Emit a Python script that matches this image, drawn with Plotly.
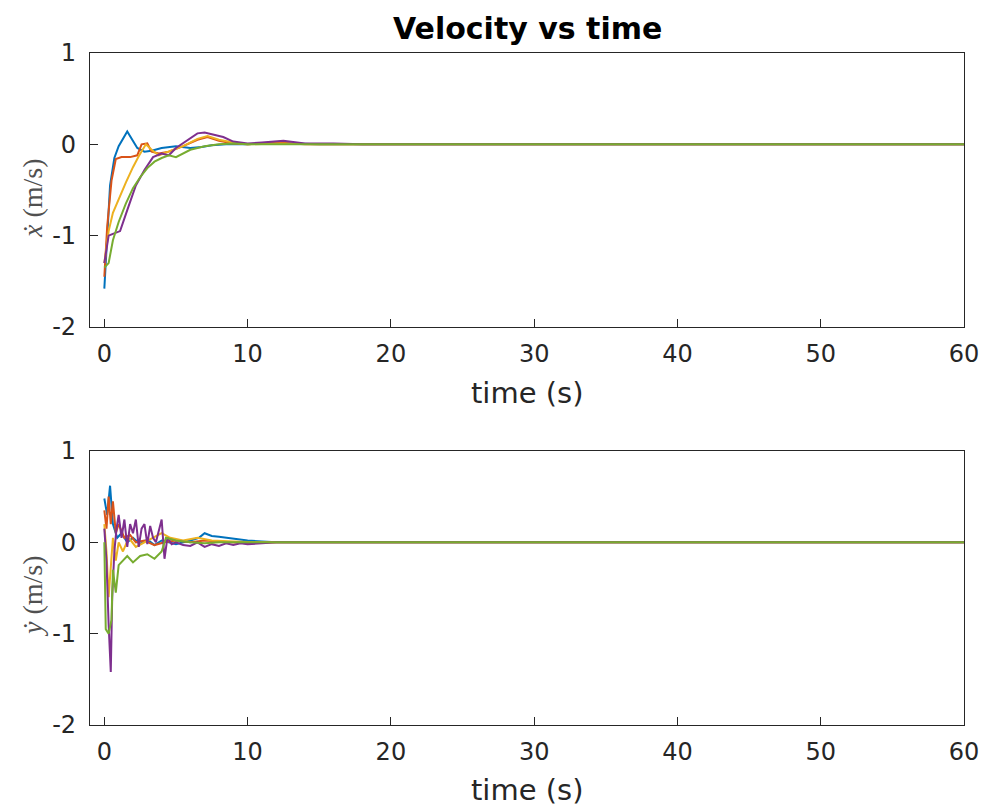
import plotly.graph_objects as go
from plotly.subplots import make_subplots

colors = ["#0072BD", "#D95319", "#EDB120", "#7E2F8E", "#77AC30"]
x_ticks = [0, 10, 20, 30, 40, 50, 60]
x_tick_text = ["0", "10", "20", "30", "40", "50", "60"]
y_ticks = [-2, -1, 0, 1]
y_tick_text = ["-2", "-1", "0", "1"]

# ---- top panel: x-dot ----
tx_blue = [0, 0.2, 0.4, 0.7, 1.0, 1.6, 2.3, 2.8, 3.3, 4.0, 5.0, 6.0, 6.8, 7.5, 8.5, 10, 12, 13, 15, 17, 20, 60]
vx_blue = [-1.58, -1.0, -0.45, -0.15, -0.02, 0.14, -0.04, -0.08, -0.07, -0.04, -0.02, -0.04, -0.03, -0.01, 0.0, 0.0, 0.02, 0.01, 0.0, 0.0, 0.0, 0.0]
tx_orange = [0, 0.2, 0.5, 0.8, 1.2, 1.8, 2.3, 2.6, 3.0, 3.3, 3.8, 4.5, 5.5, 6.5, 7.2, 8, 9, 10, 12, 14, 17, 20, 60]
vx_orange = [-1.45, -0.9, -0.4, -0.16, -0.14, -0.14, -0.12, 0.0, 0.01, -0.08, -0.1, -0.08, -0.02, 0.05, 0.08, 0.04, 0.01, 0.0, 0.02, 0.0, 0.0, 0.0, 0.0]
tx_yellow = [0, 0.3, 0.6, 1.0, 1.5, 2.0, 2.4, 2.9, 3.3, 3.8, 4.5, 5.5, 6.5, 7.2, 8, 9, 10, 12, 15, 20, 60]
vx_yellow = [-1.3, -0.95, -0.75, -0.6, -0.42, -0.25, -0.13, 0.0, -0.06, -0.12, -0.08, -0.02, 0.06, 0.09, 0.05, 0.02, 0.0, 0.01, 0.0, 0.0, 0.0]
tx_purple = [0, 0.3, 0.6, 1.1, 1.6, 2.2, 2.8, 3.4, 4.0, 4.5, 5.0, 5.8, 6.5, 7.0, 7.6, 8.3, 9.0, 10, 11, 12.5, 14, 16, 18, 20, 60]
vx_purple = [-1.3, -1.0, -0.98, -0.95, -0.72, -0.45, -0.28, -0.14, -0.1, -0.12, -0.04, 0.05, 0.12, 0.13, 0.11, 0.08, 0.03, 0.01, 0.02, 0.04, 0.01, 0.01, 0.0, 0.0, 0.0]
tx_green = [0, 0.3, 0.6, 1.0, 1.5, 2.0, 2.5, 3.0, 3.5, 4.0, 4.5, 5.0, 6.0, 7.0, 8.0, 9, 10, 12, 15, 20, 60]
vx_green = [-1.35, -1.3, -1.05, -0.85, -0.65, -0.48, -0.36, -0.26, -0.19, -0.15, -0.12, -0.14, -0.06, -0.02, 0.0, 0.01, 0.0, 0.0, 0.0, 0.0, 0.0]

# ---- bottom panel: y-dot ----
ty_blue = [0, 0.2, 0.4, 0.6, 0.9, 1.2, 1.6, 2.0, 2.5, 3.0, 3.5, 4.0, 4.5, 5, 6, 6.6, 7.0, 7.5, 8, 9, 10, 11, 12, 15, 20, 60]
vy_blue = [0.48, 0.3, 0.62, 0.2, 0.05, 0.1, 0.0, 0.05, -0.02, 0.03, -0.03, 0.02, 0.0, -0.02, 0.02, 0.05, 0.1, 0.07, 0.06, 0.04, 0.02, 0.01, 0.0, 0.0, 0.0, 0.0]
ty_orange = [0, 0.15, 0.3, 0.45, 0.6, 0.8, 1.0, 1.4, 1.8, 2.2, 2.8, 3.5, 4.2, 5, 6, 7, 8, 9, 10, 12, 15, 20, 60]
vy_orange = [0.35, 0.15, 0.5, 0.2, 0.45, 0.1, 0.2, 0.05, 0.08, 0.0, 0.02, -0.03, 0.0, 0.02, 0.0, 0.02, 0.01, 0.0, -0.01, 0.0, 0.0, 0.0, 0.0]
ty_yellow = [0, 0.15, 0.3, 0.45, 0.6, 0.8, 1.0, 1.3, 1.7, 2.2, 2.8, 3.4, 4.0, 4.6, 5.5, 6.5, 7.5, 9, 11, 15, 20, 60]
vy_yellow = [0.2, -0.1, -0.6, -0.3, 0.05, -0.2, 0.0, -0.1, 0.05, -0.05, 0.0, 0.05, 0.1, 0.05, 0.02, 0.05, 0.02, 0.01, 0.0, 0.0, 0.0, 0.0]
ty_purple = [0, 0.15, 0.3, 0.45, 0.55, 0.7, 0.85, 1.0, 1.2, 1.4, 1.6, 1.8, 2.0, 2.2, 2.4, 2.6, 2.8, 3.0, 3.2, 3.4, 3.6, 3.8, 4.0, 4.2, 4.4, 4.7, 5.0, 5.5, 6.0, 6.5, 7.0, 7.5, 8.0, 8.5, 9, 9.5, 10, 11, 12, 15, 20, 60]
vy_purple = [0.15, -0.2, -0.9, -1.42, -0.6, -0.1, 0.15, 0.3, 0.05, 0.25, -0.05, 0.2, 0.1, 0.25, -0.05, 0.15, 0.2, -0.02, 0.18, 0.05, 0.0, 0.12, 0.25, -0.18, 0.05, -0.02, 0.0, -0.03, -0.04, 0.0, -0.05, -0.02, -0.04, -0.01, -0.03, -0.01, -0.02, -0.01, 0.0, 0.0, 0.0, 0.0]
ty_green = [0, 0.1, 0.3, 0.5, 0.6, 0.8, 1.0, 1.3, 1.6, 2.0, 2.5, 3.0, 3.5, 4.0, 4.3, 5, 6, 7, 8, 9, 10, 12, 15, 20, 60]
vy_green = [0.0, -0.95, -1.0, -0.85, -0.3, -0.55, -0.25, -0.2, -0.15, -0.22, -0.15, -0.13, -0.18, -0.1, 0.05, 0.02, 0.0, -0.01, 0.0, 0.0, 0.0, 0.0, 0.0, 0.0, 0.0]

top_series = [(tx_blue, vx_blue), (tx_orange, vx_orange), (tx_yellow, vx_yellow), (tx_purple, vx_purple), (tx_green, vx_green)]
bot_series = [(ty_blue, vy_blue), (ty_orange, vy_orange), (ty_yellow, vy_yellow), (ty_purple, vy_purple), (ty_green, vy_green)]

fig = make_subplots(rows=2, cols=1, vertical_spacing=0.0)

for (t, v), c in zip(top_series, colors):
    fig.add_trace(go.Scatter(x=t, y=v, mode="lines", line=dict(color=c, width=2), showlegend=False), row=1, col=1)
for (t, v), c in zip(bot_series, colors):
    fig.add_trace(go.Scatter(x=t, y=v, mode="lines", line=dict(color=c, width=2), showlegend=False), row=2, col=1)

H = 807
top_px, bot_px = 53, 82
plot_h = H - top_px - bot_px
ax_h = 274
d_top = [1 - ax_h / plot_h, 1]
d_bot = [0, ax_h / plot_h]

axis_common = dict(showline=True, mirror=True, linecolor="#262626", linewidth=1.2,
                   ticks="inside", ticklen=8, tickcolor="#262626", showgrid=False, zeroline=False,
                   tickfont=dict(family="DejaVu Sans", size=24, color="#262626"))

fig.update_xaxes(range=[-1, 60], tickvals=x_ticks, ticktext=x_tick_text, ticklabelstandoff=5, **axis_common)
fig.update_yaxes(range=[-2, 1], tickvals=y_ticks, ticktext=y_tick_text, ticklabelstandoff=8, **axis_common)
fig.update_layout(yaxis=dict(domain=d_top), yaxis2=dict(domain=d_bot))

label_font = dict(family="DejaVu Sans", size=29, color="#262626")
ylab_font = dict(family="Liberation Serif", size=28, color="#505050")
annotations = [
    dict(text="<b>Velocity vs time</b>", xref="x domain", yref="y domain", x=0.5, y=1, yshift=25,
         yanchor="middle", showarrow=False, font=dict(family="DejaVu Sans", size=30, color="#000000")),
    dict(text="time (s)", xref="x domain", yref="y domain", x=0.5, y=0, yshift=-66,
         yanchor="middle", showarrow=False, font=label_font),
    dict(text="time (s)", xref="x2 domain", yref="y2 domain", x=0.5, y=0, yshift=-65,
         yanchor="middle", showarrow=False, font=label_font),
    dict(text="<i>ẋ</i> (m/s)", xref="x domain", yref="y domain", x=0, xshift=-58, y=0.5, yshift=-8,
         xanchor="center", yanchor="middle",
         textangle=-90, showarrow=False, font=ylab_font),
    dict(text="<i>ẏ</i> (m/s)", xref="x2 domain", yref="y2 domain", x=0, xshift=-58, y=0.5, yshift=-8,
         xanchor="center", yanchor="middle",
         textangle=-90, showarrow=False, font=ylab_font),
]

fig.update_layout(width=991, height=807, margin=dict(l=90, r=22, t=top_px, b=bot_px),
                  paper_bgcolor="white", plot_bgcolor="white", annotations=annotations)

fig.write_html("out.html")
